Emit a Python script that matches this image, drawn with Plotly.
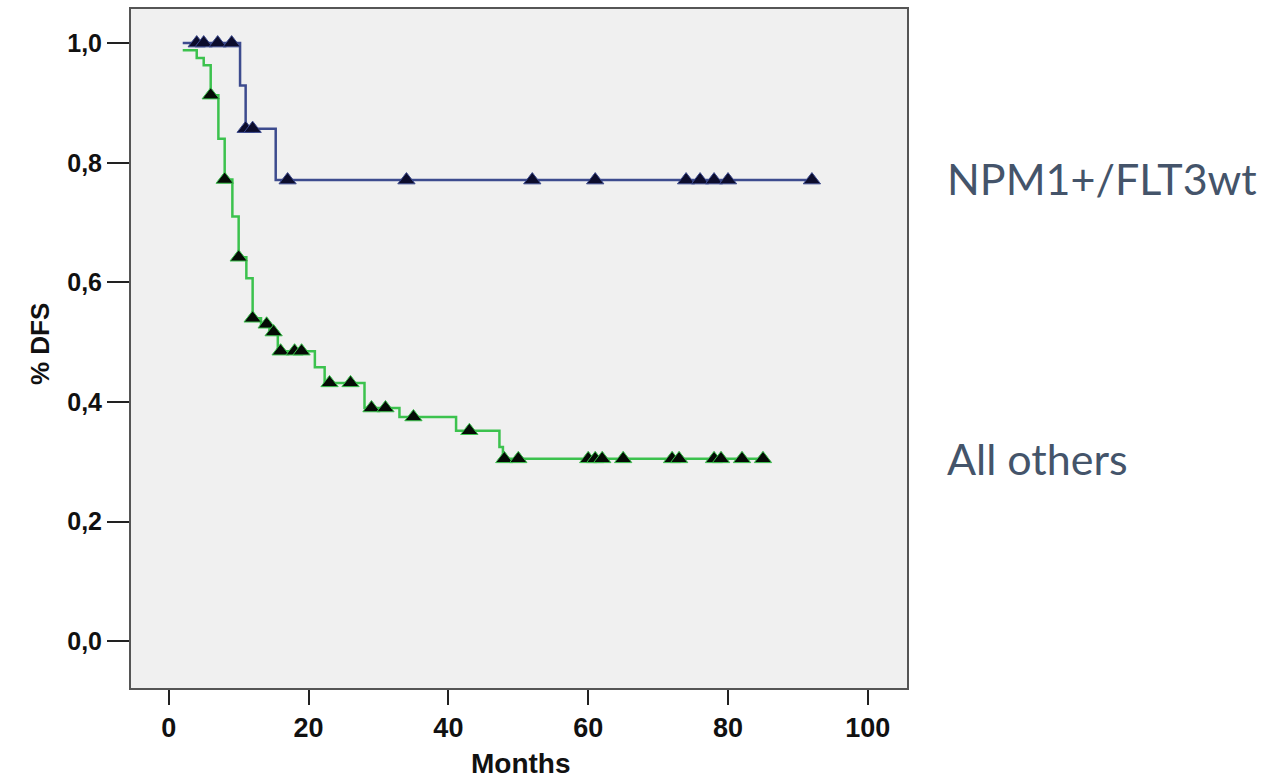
import plotly.graph_objects as go
import numpy as np

# ---- data ----
# NPM1+/FLT3wt (blue): step function (time, survival) and censored times
blue_t = [2, 10.2, 11, 15.3, 92]
blue_s = [1.0, 0.929, 0.857, 0.771, 0.771]
blue_cens = [4, 5, 7, 9, 11, 12, 17, 34, 52, 61, 74, 76, 78, 80, 92]

# All others (green)
green_t = [2, 4, 5, 6, 7.1, 8, 9.1, 10, 11.1, 12, 13.2, 14.4, 15.6, 20.9, 22.3,
           28, 33, 41.1, 47.3, 47.8, 85]
green_s = [0.988, 0.975, 0.963, 0.913, 0.84, 0.772, 0.71, 0.642, 0.607, 0.54, 0.53,
           0.517, 0.485, 0.458, 0.432, 0.39, 0.375, 0.352, 0.325, 0.305, 0.305]
green_cens = [6, 8, 10, 12, 14, 15, 16, 18, 19, 23, 26, 29, 31, 35, 43, 48, 50,
              60, 61, 62, 65, 72, 73, 78, 79, 82, 85]

x_ticks = [0, 20, 40, 60, 80, 100]
y_ticks = [0.0, 0.2, 0.4, 0.6, 0.8, 1.0]
y_ticktext = ["0,0", "0,2", "0,4", "0,6", "0,8", "1,0"]
label_blue = "NPM1+/FLT3wt"
label_green = "All others"


def step_value(ts, ss, t):
    idx = np.searchsorted(ts, t, side="right") - 1
    return ss[max(idx, 0)]


BLUE = "#3d4b8e"
GREEN = "#3cc24e"

fig = go.Figure()
fig.add_trace(go.Scatter(x=green_t, y=green_s, mode="lines", line_shape="hv",
                         line=dict(color=GREEN, width=2.5), showlegend=False))
fig.add_trace(go.Scatter(x=blue_t, y=blue_s, mode="lines", line_shape="hv",
                         line=dict(color=BLUE, width=2.5), showlegend=False))
fig.add_trace(go.Scatter(x=green_cens, y=[step_value(green_t, green_s, t) for t in green_cens],
                         mode="markers",
                         marker=dict(symbol="triangle-up", size=15, color="#050a05",
                                     line=dict(color=GREEN, width=1)),
                         showlegend=False))
fig.add_trace(go.Scatter(x=blue_cens, y=[step_value(blue_t, blue_s, t) for t in blue_cens],
                         mode="markers",
                         marker=dict(symbol="triangle-up", size=15, color="#0c0c2c",
                                     line=dict(color=BLUE, width=1)),
                         showlegend=False))

L, R, T, B = 131, 907, 7, 688
W, H = 1265, 780


def px(x):
    return (x - L) / (R - L)


def py(y):
    return (B - y) / (B - T)


fig.update_layout(
    width=W, height=H,
    margin=dict(l=L, r=W - R, t=T, b=H - B),
    paper_bgcolor="white",
    plot_bgcolor="#f0f0f0",
    xaxis=dict(range=[-5.4, 105.6], tickvals=x_ticks, ticks="outside", ticklen=15,
               tickwidth=2, tickcolor="#222", showgrid=False, zeroline=False,
               showline=True, linecolor="#555", linewidth=2, mirror=True,
               tickfont=dict(family="Liberation Sans, Arial", size=27, color="#111"),
               ),
    yaxis=dict(range=[-0.078, 1.057], tickvals=y_ticks, ticktext=y_ticktext,
               ticks="outside", ticklen=22, tickwidth=2, tickcolor="#222",
               showgrid=False, zeroline=False, showline=True, linecolor="#555",
               linewidth=2, mirror=True,
               tickfont=dict(family="Liberation Sans, Arial", size=25, color="#111"),
               ),
    font=dict(family="Liberation Sans, Arial"),
)
fig.update_xaxes(tickfont_weight="bold")
fig.update_yaxes(tickfont_weight="bold")

annotations = [
    dict(text="<b>Months</b>", x=px(521), y=py(764), xref="paper", yref="paper",
         showarrow=False, xanchor="center", yanchor="middle",
         font=dict(family="Liberation Sans, Arial", size=28, color="#111")),
    dict(text="<b>% DFS</b>", x=px(40), y=py(343), xref="paper", yref="paper",
         showarrow=False, xanchor="center", yanchor="middle", textangle=-90,
         font=dict(family="Liberation Sans, Arial", size=26, color="#111")),
    dict(text=label_blue, x=px(945), y=py(177), xref="paper", yref="paper",
         showarrow=False, xanchor="left", yanchor="middle",
         font=dict(family="Lato, Open Sans", size=43, color="#44546a")),
    dict(text=label_green, x=px(945), y=py(458), xref="paper", yref="paper",
         showarrow=False, xanchor="left", yanchor="middle",
         font=dict(family="Lato, Open Sans", size=43, color="#44546a")),
]
fig.update_layout(annotations=annotations)

fig.write_html("out.html")
